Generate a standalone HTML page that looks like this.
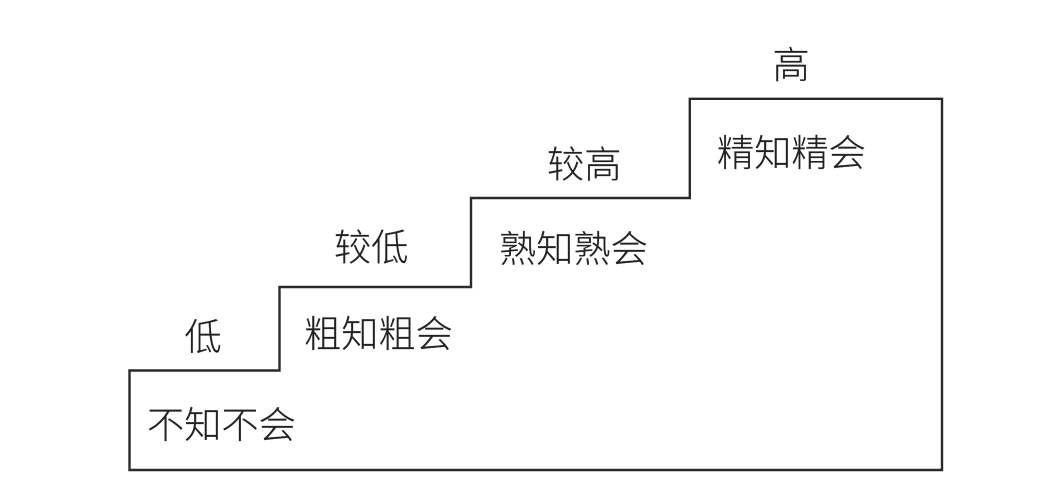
<!DOCTYPE html>
<html lang="zh">
<head>
<meta charset="utf-8">
<style>
html,body{margin:0;padding:0;background:#fff;}
svg{display:block;}
text{font-family:"Liberation Sans","Noto Sans CJK SC",sans-serif;font-size:37.2px;font-weight:300;fill:#222;stroke:#222;stroke-width:0.2px;}
</style>
</head>
<body>
<svg width="1050" height="500" viewBox="0 0 1050 500" xmlns="http://www.w3.org/2000/svg">
<rect width="1050" height="500" fill="#fff"/>
<polygon points="129.5,370.5 279.5,370.5 279.5,287 471,287 471,198 689.8,198 689.8,98.8 942,98.8 942,470 129.5,470" fill="none" stroke="#2a2a2a" stroke-width="2.4"/>
<text x="147" y="438">不知不会</text>
<text x="304" y="347">粗知粗会</text>
<text x="499" y="262">熟知熟会</text>
<text x="717" y="166">精知精会</text>
<text x="184.5" y="350">低</text>
<text x="334" y="260.5">较低</text>
<text x="547" y="177.5">较高</text>
<text x="772.5" y="78">高</text>
</svg>
</body>
</html>
